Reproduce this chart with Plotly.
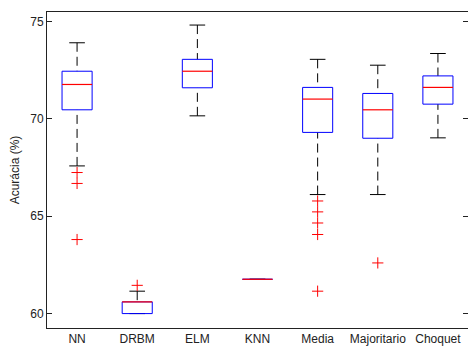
import plotly.graph_objects as go

categories = ["NN", "DRBM", "ELM", "KNN", "Media", "Majoritario", "Choquet"]
upper_whisker = [73.90, 61.15, 74.81, 61.76, 73.05, 72.75, 73.35]
q3 = [72.44, 60.60, 73.05, 61.76, 71.61, 71.30, 72.20]
median = [71.76, 60.60, 72.44, 61.76, 71.01, 70.46, 71.61]
q1 = [70.46, 60.00, 71.59, 61.76, 69.30, 69.00, 70.75]
lower_whisker = [67.58, 60.00, 70.15, 61.76, 66.11, 66.11, 69.02]
outlier_category = ["NN", "NN", "NN", "DRBM", "Media", "Media", "Media", "Media", "Media", "Majoritario"]
outlier_value = [67.24, 66.68, 63.80, 61.45, 65.78, 65.22, 64.65, 64.06, 61.15, 62.60]
y_ticks = [60, 65, 70, 75]

positions = list(range(1, len(categories) + 1))
BOX_HALF = 0.25
CAP_HALF = 0.13

wx, wy, cx, cy, bx, by, mx, my = [], [], [], [], [], [], [], []
for p, lw, a, m, b, uw in zip(positions, lower_whisker, q1, median, q3, upper_whisker):
    wx += [p, p, None, p, p, None]
    wy += [uw, b, None, lw, a, None]
    cx += [p - CAP_HALF, p + CAP_HALF, None, p - CAP_HALF, p + CAP_HALF, None]
    cy += [uw, uw, None, lw, lw, None]
    bx += [p - BOX_HALF, p + BOX_HALF, p + BOX_HALF, p - BOX_HALF, p - BOX_HALF, None]
    by += [a, a, b, b, a, None]
    mx += [p - BOX_HALF, p + BOX_HALF, None]
    my += [m, m, None]

ox = [positions[categories.index(c)] for c in outlier_category]

fig = go.Figure()
fig.add_trace(go.Scatter(x=wx, y=wy, mode="lines", line=dict(color="black", width=1, dash="9px,5px"),
                         hoverinfo="skip"))
fig.add_trace(go.Scatter(x=cx, y=cy, mode="lines", line=dict(color="black", width=1), hoverinfo="skip"))
fig.add_trace(go.Scatter(x=bx, y=by, mode="lines", line=dict(color="#0000ff", width=1), hoverinfo="skip"))
fig.add_trace(go.Scatter(x=mx, y=my, mode="lines", line=dict(color="#ff0000", width=1.2), hoverinfo="skip"))
fig.add_trace(go.Scatter(x=ox, y=outlier_value, mode="markers",
                         marker=dict(symbol="cross-thin", size=8, line=dict(color="#ff0000", width=1)),
                         hoverinfo="skip"))

fig.update_layout(
    width=468, height=350,
    margin=dict(l=47, r=0, t=12, b=22),
    paper_bgcolor="white", plot_bgcolor="white",
    showlegend=False,
    font=dict(family="Liberation Sans, Arial, sans-serif", size=12, color="#222"),
)
fig.update_xaxes(
    range=[0.5, 7.5], tickvals=positions, ticktext=categories,
    showgrid=False, zeroline=False, showline=True, linecolor="#222", linewidth=1,
    mirror=True, ticks="", ticklabelstandoff=0,
)
fig.update_yaxes(
    range=[59.26, 75.48], tickvals=y_ticks,
    showgrid=False, zeroline=False, showline=True, linecolor="#222", linewidth=1,
    mirror="ticks", ticks="inside", ticklen=5, tickcolor="#222",
    title=dict(text="Acurácia (%)", font=dict(size=12), standoff=8),
)
fig.write_html("out.html")
